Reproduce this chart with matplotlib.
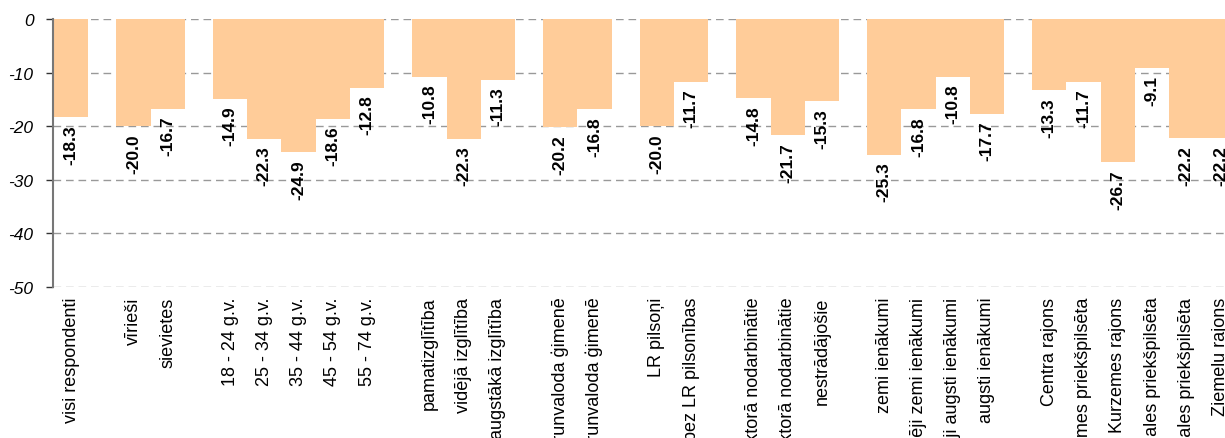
import matplotlib
matplotlib.use("Agg")
import matplotlib.pyplot as plt

plt.rcParams['font.family'] = ['Liberation Sans', 'DejaVu Sans']

# groups of categories (a gap is drawn between groups)
group_labels = [
    ["visi respondenti"],
    ["vīrieši", "sievietes"],
    ["18 - 24 g.v.", "25 - 34 g.v.", "35 - 44 g.v.", "45 - 54 g.v.", "55 - 74 g.v."],
    ["pamatizglītība", "vidējā izglītība", "augstākā izglītība"],
    ["latviešu sarunvaloda ģimenē", "krievu sarunvaloda ģimenē"],
    ["LR pilsoņi", "bez LR pilsonības"],
    ["valsts sektorā nodarbinātie", "privātā sektorā nodarbinātie", "nestrādājošie"],
    ["zemi ienākumi", "vidēji zemi ienākumi", "vidēji augsti ienākumi", "augsti ienākumi"],
    ["Centra rajons", "Vidzemes priekšpilsēta", "Kurzemes rajons",
     "Latgales priekšpilsēta", "Zemgales priekšpilsēta", "Ziemeļu rajons"],
]
group_values = [
    [-18.3],
    [-20.0, -16.7],
    [-14.9, -22.3, -24.9, -18.6, -12.8],
    [-10.8, -22.3, -11.3],
    [-20.2, -16.8],
    [-20.0, -11.7],
    [-14.8, -21.7, -15.3],
    [-25.3, -16.8, -10.8, -17.7],
    [-13.3, -11.7, -26.7, -9.1, -22.2, -22.2],
]
y_ticks = [0, -10, -20, -30, -40, -50]

BAR_COLOR = "#FFCC99"
GAP = 0.82

positions, labels, values = [], [], []
x = 0.0
for gl, gv in zip(group_labels, group_values):
    for lab, val in zip(gl, gv):
        positions.append(x)
        labels.append(lab)
        values.append(val)
        x += 1.0
    x += GAP

W, H = 1225, 439
fig = plt.figure(figsize=(W / 100, H / 100), dpi=100)
ax = fig.add_axes([53 / W, 1 - 288 / H, 1 - 53 / W, (288 - 20) / H])

ax.bar(positions, values, width=1.0, color=BAR_COLOR, edgecolor='none', zorder=2)

for xp, v in zip(positions, values):
    ax.annotate(f"{v:.1f}", xy=(xp, v), xytext=(0, -5), textcoords="offset points",
                rotation=90, ha="center", va="top", fontsize=12.5, fontweight="bold",
                color="black", zorder=3)

ax.set_ylim(-50, 0)
ax.set_yticks(y_ticks)
ax.set_yticklabels([str(t) for t in y_ticks], fontstyle="italic", fontsize=12.5)
ax.set_xlim(-0.53, -0.53 + (W - 53) / 34.25)
ax.set_xticks(positions)
ax.set_xticklabels(labels, rotation=90, fontsize=13, va="top", ha="center")
ax.tick_params(axis="x", length=0, pad=7)
ax.tick_params(axis="y", length=5, width=1, color="#333333", pad=9)

ax.yaxis.grid(True, linestyle=(0, (5.5, 3.5)), color="#999999", linewidth=1, zorder=0)
ax.set_axisbelow(True)
for s in ["top", "right", "bottom"]:
    ax.spines[s].set_visible(False)
ax.spines["left"].set_color("#777777")
ax.spines["left"].set_linewidth(1.5)

fig.savefig("out.png", dpi=100)
